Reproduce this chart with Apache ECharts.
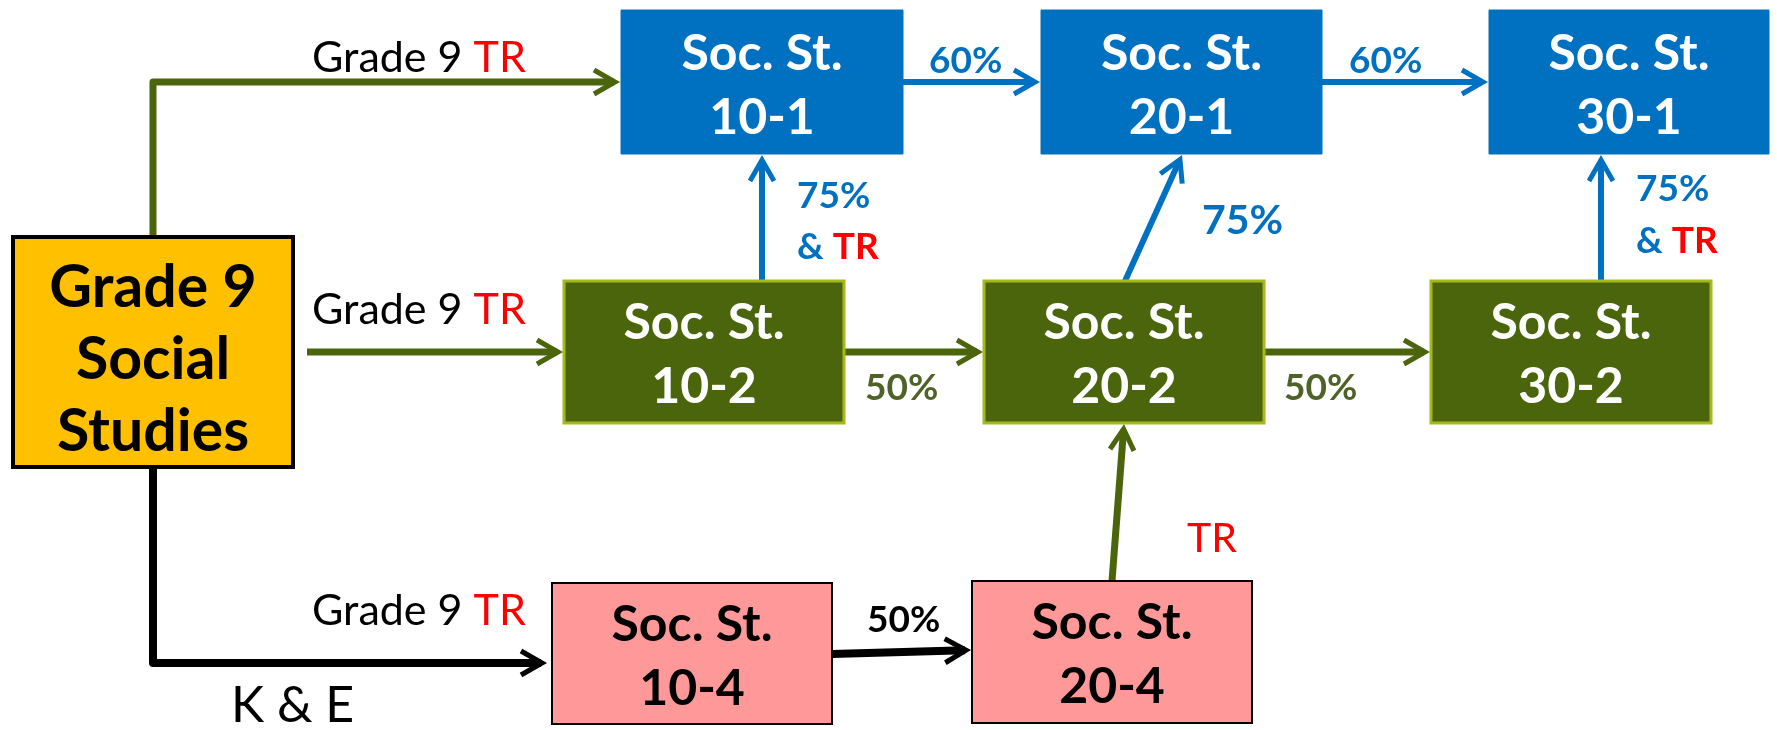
<!DOCTYPE html>
<html>
<head>
<meta charset="utf-8">
<script src="https://cdn.jsdelivr.net/npm/echarts@6/dist/echarts.min.js"></script>
<style>
  html, body { margin: 0; padding: 0; background: #fff; }
  #chart { width: 1777px; height: 730px; }
</style>
</head>
<body>
<div id="chart"></div>
<script>
// course boxes: label, kind, [x0, y0, x1, y1] in diagram units (0..1777 x 0..730)
const boxLabels = [
  'Grade 9\nSocial\nStudies',
  'Soc. St.\n10-1', 'Soc. St.\n20-1', 'Soc. St.\n30-1',
  'Soc. St.\n10-2', 'Soc. St.\n20-2', 'Soc. St.\n30-2',
  'Soc. St.\n10-4', 'Soc. St.\n20-4'
]
const boxKinds = ['start', 'dash1', 'dash1', 'dash1', 'dash2', 'dash2', 'dash2', 'dash4', 'dash4']
const boxRects = [
  [13, 237, 293, 467],
  [621, 10, 903, 154], [1041, 10, 1322, 154], [1489, 10, 1769, 154],
  [564, 281, 844, 423], [984, 281, 1264, 423], [1431, 281, 1711, 423],
  [552, 583, 832, 724], [972, 581, 1252, 723]
]

// arrows: kind + polyline points, last point is the tip
const arrowKinds = ['green', 'green', 'black', 'blue', 'blue', 'green', 'green', 'blue', 'blue', 'blue', 'black', 'green']
const arrowPaths = [
  [[153, 237], [153, 82], [620, 82]],
  [[307, 352], [563, 352]],
  [[153, 467], [153, 663], [547, 663]],
  [[903, 82], [1040, 82]],
  [[1322, 82], [1488, 82]],
  [[844, 352], [983, 352]],
  [[1264, 352], [1430, 352]],
  [[762, 281], [762, 155]],
  [[1125, 281], [1182, 155]],
  [[1601, 281], [1601, 155]],
  [[832, 654], [971, 650]],
  [[1112, 581], [1124, 424]]
]

// free text: text, kind, [x, y] (x = left edge, y = middle of capitals)
const labelTexts = [
  'Grade 9 {r|TR}', 'Grade 9 {r|TR}', 'Grade 9 {r|TR}', 'K & E',
  '60%', '60%', '50%', '50%', '50%',
  '75%', '& {r|TR}', '75%', '75%', '& {r|TR}', 'TR'
]
const labelKinds = [
  'plain', 'plain', 'plain', 'big',
  'blue', 'blue', 'green', 'green', 'black',
  'blue', 'blue', 'blueBig', 'blue', 'blue', 'red'
]
const labelPos = [
  [312, 58], [312, 310], [312, 611], [231, 706],
  [929, 61], [1349, 61], [865, 388], [1284, 388], [867, 620],
  [797, 196], [797, 247], [1202, 221], [1636, 189], [1636, 241], [1187, 539]
]

const FONT = 'Lato, "Open Sans", sans-serif'

const boxStyle = {
  start: { fill: '#FFC000', stroke: '#000', lineWidth: 4, text: '#000', size: 59, lh: 72, dy: 8 },
  dash1: { fill: '#0070C0', stroke: '#0070C0', lineWidth: 1, text: '#fff', size: 50, lh: 64, dy: 4 },
  dash2: { fill: '#4A650C', stroke: '#A5B81C', lineWidth: 3, text: '#fff', size: 50, lh: 64, dy: 3 },
  dash4: { fill: '#FF9999', stroke: '#000', lineWidth: 2, text: '#000', size: 50, lh: 64, dy: 3 }
}
const arrowStyle = {
  green: { color: '#4A650C', width: 7 },
  blue: { color: '#0070C0', width: 6 },
  black: { color: '#000', width: 8 }
}
const labelStyle = {
  plain: { color: '#000', size: 43, weight: 'normal' },
  big: { color: '#000', size: 50, weight: 'normal' },
  blue: { color: '#0070C0', size: 37, weight: 'bold' },
  blueBig: { color: '#0070C0', size: 41, weight: 'bold' },
  green: { color: '#4F6228', size: 37, weight: 'bold' },
  black: { color: '#000', size: 37, weight: 'bold' },
  red: { color: '#FF0000', size: 41, weight: 'normal' }
}

const chart = echarts.init(document.getElementById('chart'))

chart.setOption({
  animation: false,
  grid: { left: 0, right: 0, top: 0, bottom: 0 },
  xAxis: { type: 'value', min: 0, max: 1777, show: false },
  yAxis: { type: 'value', min: 0, max: 730, inverse: true, show: false },
  series: [
    {
      type: 'custom',
      name: 'arrows',
      clip: false,
      data: arrowPaths.map(p => p[0]),
      renderItem: (params, api) => {
        const pts = arrowPaths[params.dataIndex].map(p => api.coord(p))
        const st = arrowStyle[arrowKinds[params.dataIndex]]
        const b = pts[pts.length - 1]
        const a = pts[pts.length - 2]
        const ang = Math.atan2(b[1] - a[1], b[0] - a[0])
        const at = (dx, dy) => [
          b[0] + dx * Math.cos(ang) - dy * Math.sin(ang),
          b[1] + dx * Math.sin(ang) + dy * Math.cos(ang)
        ]
        const shaft = pts.slice(0, -1).concat([at(-6, 0)])
        return {
          type: 'group',
          children: [
            {
              type: 'polyline',
              shape: { points: shaft },
              style: { stroke: st.color, lineWidth: st.width, fill: null, lineJoin: 'round' }
            },
            {
              type: 'polyline',
              shape: { points: [at(-26, -12), at(-5, 0), at(-26, 12)] },
              style: { stroke: st.color, lineWidth: 5, fill: null, lineJoin: 'miter' }
            }
          ]
        }
      }
    },
    {
      type: 'custom',
      name: 'boxes',
      clip: false,
      data: boxRects,
      encode: { x: [0, 2], y: [1, 3] },
      renderItem: (params, api) => {
        const st = boxStyle[boxKinds[params.dataIndex]]
        const p0 = api.coord([api.value(0), api.value(1)])
        const p1 = api.coord([api.value(2), api.value(3)])
        return {
          type: 'group',
          children: [
            {
              type: 'rect',
              shape: { x: p0[0], y: p0[1], width: p1[0] - p0[0], height: p1[1] - p0[1] },
              style: { fill: st.fill, stroke: st.stroke, lineWidth: st.lineWidth }
            },
            {
              type: 'text',
              x: (p0[0] + p1[0]) / 2,
              y: (p0[1] + p1[1]) / 2 + st.dy,
              style: {
                text: boxLabels[params.dataIndex],
                fill: st.text,
                fontSize: st.size,
                fontWeight: 'bold',
                fontFamily: FONT,
                lineHeight: st.lh,
                align: 'center',
                verticalAlign: 'middle'
              }
            }
          ]
        }
      }
    },
    {
      type: 'custom',
      name: 'labels',
      clip: false,
      data: labelPos,
      renderItem: (params, api) => {
        const st = labelStyle[labelKinds[params.dataIndex]]
        const p = api.coord([api.value(0), api.value(1)])
        return {
          type: 'text',
          x: p[0],
          y: p[1],
          style: {
            text: labelTexts[params.dataIndex],
            fill: st.color,
            fontSize: st.size,
            fontWeight: st.weight,
            fontFamily: FONT,
            align: 'left',
            verticalAlign: 'middle',
            rich: {
              r: { fill: '#FF0000', fontSize: st.size, fontWeight: st.weight, fontFamily: FONT }
            }
          }
        }
      }
    }
  ]
})
</script>
</body>
</html>
